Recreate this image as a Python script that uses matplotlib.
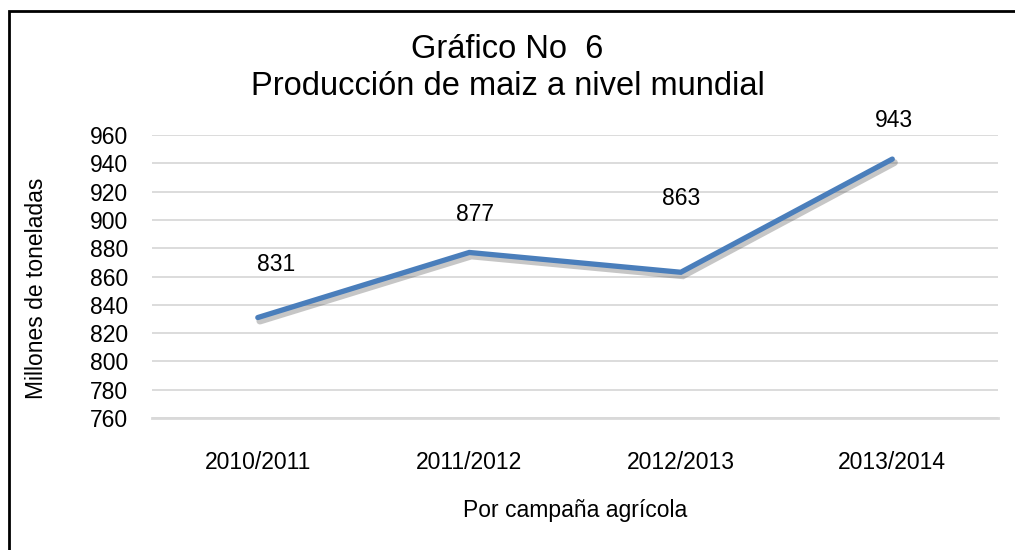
import matplotlib
matplotlib.use("Agg")
import matplotlib.pyplot as plt
import matplotlib.patheffects as pe
from matplotlib.patches import Rectangle
import numpy as np

plt.rcParams['font.family'] = ['Liberation Sans Narrow', 'Liberation Sans', 'DejaVu Sans']

# Data
campanas = ['2010/2011', '2011/2012', '2012/2013', '2013/2014']
produccion = [831, 877, 863, 943]
# label offsets (points) as they sit in the original
offsets = [(13, 38), (4, 27), (0, 53), (1, 28)]

fig = plt.figure(figsize=(10.15, 5.5), dpi=100)
ax = fig.add_axes([0.1498, 0.24, 0.8335, 0.5145])

x = np.arange(len(campanas)) + 0.5
ax.plot(x, produccion, color='#4A7EBB', lw=3.8, solid_capstyle='round', solid_joinstyle='miter',
        path_effects=[pe.SimpleLineShadow(offset=(1.5, -2.5), alpha=0.3, shadow_color='#444444',
                                          linewidth=5),
                      pe.Normal()], zorder=3)

for xi, v, off in zip(x, produccion, offsets):
    ax.annotate(str(v), (xi, v), xytext=off, textcoords='offset points',
                ha='center', va='center', fontsize=16.5, color='#000000')

ax.set_xlim(0, 4)
ax.set_ylim(760, 960)
ax.set_yticks(np.arange(760, 961, 20))
ax.set_xticks(x)
ax.set_xticklabels(campanas)
ax.tick_params(axis='both', length=0, labelsize=16.5, colors='#000000')
ax.tick_params(axis='y', pad=17)
ax.tick_params(axis='x', pad=24)
ax.grid(axis='y', color='#D9D9D9', lw=1.3)
for s in ['top', 'right', 'left']:
    ax.spines[s].set_visible(False)
ax.spines['bottom'].set_color('#D9D9D9')
ax.spines['bottom'].set_linewidth(2)

ax.set_ylabel('Millones de toneladas', fontsize=16.5)
ax.yaxis.set_label_coords(-0.123, 0.458)
ax.set_xlabel('Por campaña agrícola', fontsize=16.5, labelpad=18)

fig.text(0.5, 0.91, 'Gráfico No  6', ha='center', va='center', fontsize=23.5)
fig.text(0.5, 0.843, 'Producción de maiz a nivel mundial', ha='center', va='center', fontsize=23.5)

# outer frame (right/bottom edges fall outside the picture)
fig.patches.append(Rectangle((0.0089, -0.05), 1.2, 1.03, transform=fig.transFigure,
                             fill=False, edgecolor='black', lw=2))

fig.savefig('out.png', dpi=100)
